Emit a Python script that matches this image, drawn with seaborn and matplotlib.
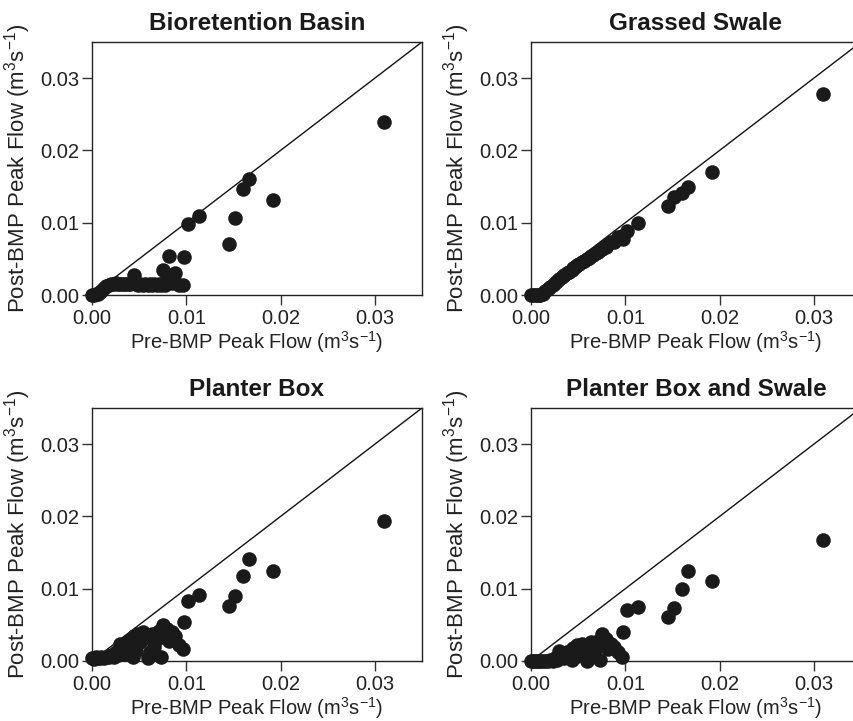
import matplotlib
matplotlib.use("Agg")
import matplotlib.pyplot as plt
import seaborn as sns
import pandas as pd

# Pre-BMP peak flow (shared by all panels), m3/s
pre_flow = [0.0310, 0.0192, 0.0166, 0.0160, 0.0152, 0.0145, 0.0113, 0.0102, 0.0098,
            0.0096, 0.0092, 0.0088, 0.0085, 0.0082, 0.0080, 0.0077, 0.0075, 0.0073, 0.0071,
            0.0069, 0.0066, 0.0064, 0.0061, 0.0059, 0.0056, 0.0054, 0.0051, 0.0049, 0.0047,
            0.0045, 0.0043, 0.0040, 0.0038, 0.0035, 0.0033, 0.0030, 0.0028, 0.0025, 0.0023,
            0.0020, 0.0018, 0.0015, 0.0013, 0.0010, 0.0008, 0.0006, 0.0004, 0.0002, 0.0000]

post_bioretention = [0.0240, 0.0131, 0.0161, 0.0147, 0.0106, 0.0070, 0.0109, 0.0098, 0.0052,
                     0.0014, 0.0014, 0.0030, 0.0016, 0.0054, 0.0026, 0.0014, 0.0035, 0.0014, 0.0015,
                     0.0014, 0.0015, 0.0014, 0.0015, 0.0014, 0.0015, 0.0014, 0.0015, 0.0014, 0.0015,
                     0.0028, 0.0016, 0.0015, 0.0015, 0.0015, 0.0015, 0.0015, 0.0015, 0.0016, 0.0015,
                     0.0015, 0.0014, 0.0012, 0.0009, 0.0006, 0.0004, 0.0002, 0.0001, 0.0000, 0.0000]

post_swale = [0.0278, 0.0170, 0.0150, 0.0141, 0.0136, 0.0123, 0.0100, 0.0089, 0.0078,
              0.0082, 0.0080, 0.0074, 0.0073, 0.0070, 0.0067, 0.0066, 0.0063, 0.0062, 0.0060,
              0.0058, 0.0056, 0.0054, 0.0051, 0.0050, 0.0047, 0.0045, 0.0043, 0.0041, 0.0039,
              0.0037, 0.0035, 0.0032, 0.0030, 0.0027, 0.0025, 0.0022, 0.0020, 0.0016, 0.0014,
              0.0011, 0.0008, 0.0005, 0.0002, 0.0000, 0.0000, 0.0000, 0.0000, 0.0000, 0.0000]

post_planter = [0.0193, 0.0125, 0.0141, 0.0118, 0.0090, 0.0076, 0.0091, 0.0083, 0.0054,
                0.0016, 0.0022, 0.0034, 0.0040, 0.0028, 0.0044, 0.0036, 0.0050, 0.0005, 0.0042,
                0.0030, 0.0020, 0.0038, 0.0012, 0.0004, 0.0032, 0.0040, 0.0026, 0.0038, 0.0014,
                0.0034, 0.0006, 0.0022, 0.0028, 0.0010, 0.0016, 0.0024, 0.0008, 0.0012, 0.0006,
                0.0008, 0.0005, 0.0006, 0.0004, 0.0005, 0.0004, 0.0004, 0.0005, 0.0003, 0.0004]

post_planter_swale = [0.0168, 0.0110, 0.0125, 0.0100, 0.0074, 0.0061, 0.0075, 0.0070, 0.0040,
                      0.0006, 0.0012, 0.0020, 0.0024, 0.0016, 0.0030, 0.0022, 0.0037, 0.0002, 0.0028,
                      0.0018, 0.0010, 0.0026, 0.0006, 0.0000, 0.0018, 0.0024, 0.0014, 0.0022, 0.0006,
                      0.0018, 0.0002, 0.0010, 0.0012, 0.0004, 0.0008, 0.0014, 0.0002, 0.0004, 0.0000,
                      0.0002, 0.0000, 0.0000, 0.0000, 0.0000, 0.0000, 0.0000, 0.0000, 0.0000, 0.0000]

titles = ["Bioretention Basin", "Grassed Swale", "Planter Box", "Planter Box and Swale"]
series = [post_bioretention, post_swale, post_planter, post_planter_swale]
ticks = [0.00, 0.01, 0.02, 0.03]
tick_labels = ["0.00", "0.01", "0.02", "0.03"]

sns.set_theme(style="white")
plt.rcParams["font.family"] = ["Liberation Sans", "DejaVu Sans"]
plt.rcParams["mathtext.fontset"] = "custom"
plt.rcParams["mathtext.rm"] = "Liberation Sans"
plt.rcParams["mathtext.it"] = "Liberation Sans:italic"
plt.rcParams["mathtext.bf"] = "Liberation Sans:bold"

fig = plt.figure(figsize=(8.54, 7.21), dpi=100)
W, H = 854, 721
boxes = [(92, 42), (531, 42), (92, 408), (531, 408)]
aw, ah = 330, 253

text_col = "#222222"
for (lx, ty), title, post in zip(boxes, titles, series):
    ax = fig.add_axes([lx / W, 1 - (ty + ah) / H, aw / W, ah / H])
    df = pd.DataFrame({"pre": pre_flow, "post": post})
    sns.scatterplot(data=df, x="pre", y="post", ax=ax, color="#1a1a1a",
                    s=110, linewidth=0, clip_on=False, zorder=3)
    ax.axline((0, 0), slope=1, color="#111111", lw=1.0, zorder=2)
    ax.set_xlim(0, 0.035)
    ax.set_ylim(0, 0.035)
    ax.set_xticks(ticks)
    ax.set_xticklabels(tick_labels)
    ax.set_yticks(ticks)
    ax.set_yticklabels(tick_labels)
    ax.tick_params(axis="both", which="both", direction="out", length=7, width=1,
                   color="#333333", labelcolor=text_col, labelsize=14.5,
                   bottom=True, left=True, top=False, right=False)
    ax.tick_params(axis="x", pad=3)
    ax.tick_params(axis="y", pad=2)
    for sp in ax.spines.values():
        sp.set_color("#222222")
        sp.set_linewidth(1.0)
        sp.set_visible(True)
    ax.set_title(title, fontsize=17.5, fontweight="bold", color="#1a1a1a", pad=9)
    ax.set_xlabel(r"Pre-BMP Peak Flow (m$^{3}$s$^{-1}$)", fontsize=14.5, color=text_col)
    ax.set_ylabel(r"Post-BMP Peak Flow (m$^{3}$s$^{-1}$)", fontsize=16, color=text_col)
    ax.xaxis.set_label_coords(0.5, -0.136)
    ax.yaxis.set_label_coords(-0.18, 0.5)
    ax.grid(False)

fig.savefig("out.png", dpi=100, facecolor="white")
